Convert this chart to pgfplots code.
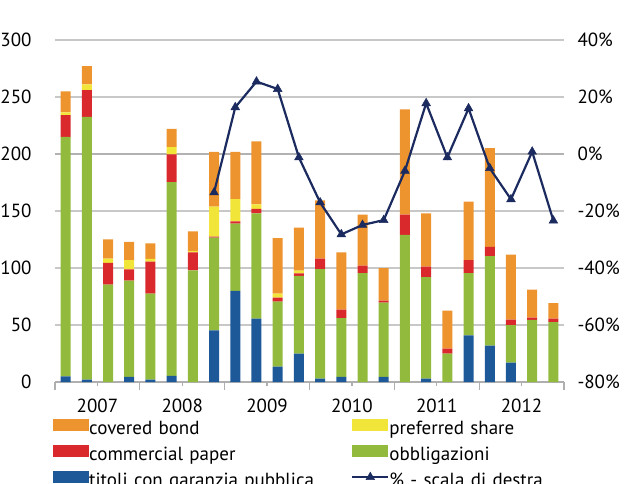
\documentclass[border=0pt]{standalone}
\usepackage{pgfplots}
\usepackage{pgfplotstable}
\pgfplotsset{compat=1.18}
\usepackage{fontspec}
\setmainfont{PT Sans}
\definecolor{cOrange}{RGB}{237,148,46}
\definecolor{cYellow}{RGB}{242,229,58}
\definecolor{cRed}{RGB}{218,41,44}
\definecolor{cGreen}{RGB}{146,187,62}
\definecolor{cBlue}{RGB}{29,89,153}
\definecolor{cNavy}{RGB}{28,43,95}
\definecolor{cGrid}{RGB}{200,200,200}
\definecolor{cAxis}{RGB}{175,175,175}
\pgfplotsset{
  swatch/.style={legend image code/.code={\fill[##1] (0pt,-1pt) rectangle (36pt,11pt);}},
  linesw/.style={legend image code/.code={%
    \draw[draw=cNavy, line width=2.2pt] (0pt,5pt) -- (36pt,5pt);
    \begin{scope}[shift={(18pt,5pt)}, fill=cNavy, draw=cNavy, line width=0.5pt]
      \pgfsetplotmarksize{5pt}\pgfuseplotmark{triangle*}
    \end{scope}}},
}
\pgfplotstableread{
x blue green red yellow orange
0 5 210 19 2.5 18.5
1 2 230.5 23.5 5 16
2 0 85.4 19 3.8 17
3 4.4 84.5 10 8 16
4 2 75.5 28 2.4 13.6
5 5.3 170 24.3 6.4 16
6 0 98 15.7 1.3 17.2
7 45.3 81.3 1 26.3 48
8 80 59 2 19.5 41.3
9 55.6 92.4 3.8 4 55.2
10 13.5 57 3.5 3.5 48.8
11 25 68 2.3 2.4 37.7
12 3 96 9.2 0 51.2
13 4.4 51.7 7.4 0 50.2
14 0 95.6 6.4 0 44.8
15 4.4 65.2 1.7 0 28.7
16 0 129 17.8 0 92.4
17 3 89 9.2 0 46.8
18 0 24.9 4.3 0 33.4
19 41 54.6 11.4 0 51.2
20 32 78.5 8 0 86.6
21 17 33 4.7 0 57
22 0 54.4 2 0 24.6
23 0 52.6 3 0 13.7
}\bars
\pgfplotstableread{
x pct
7 -13.5
8 16.4
9 25.4
10 22.8
11 -1.2
12 -17
13 -28.2
14 -24.9
15 -23.2
16 -5.9
17 17.8
18 -1.2
19 16
20 -5
21 -15.9
22 0.8
23 -23.4
}\pct
\newcommand{\fnt}{\fontsize{19}{22}\selectfont}
\begin{document}
\begin{tikzpicture}
\useasboundingbox (0pt,0pt) rectangle (634pt,483pt);
\clip (0pt,0pt) rectangle (634pt,483pt);
\begin{axis}[
  at={(55pt,101pt)}, anchor=south west,
  scale only axis, width=509pt, height=342pt,
  xmin=-0.5, xmax=23.5, ymin=0, ymax=300,
  ybar stacked, bar width=10pt,
  axis x line*=bottom, axis y line*=left,
  y axis line style={draw=none},
  x axis line style={draw=cAxis, line width=1.6pt},
  ytick={0,50,...,300},
  yticklabels={0,50,100,150,200,250,300},
  ytick style={draw=none},
  ymajorgrids, grid style={draw=cGrid, line width=1.2pt},
  extra y ticks={200}, extra y tick labels={},
  extra y tick style={grid=major, major grid style={draw=black!30, line width=1.6pt}, ytick style={draw=none}},
  yticklabel style={font=\fnt, xshift=-12pt},
  tick align=outside,
  xtick={-0.5,3.5,7.5,11.5,15.5,19.5,23.5}, xticklabels={},
  major tick length=8pt,
  xtick style={draw=cAxis, line width=1.3pt},
  extra x ticks={1.5,5.5,9.5,13.5,17.5,21.5},
  extra x tick labels={2007,2008,2009,2010,2011,2012},
  extra x tick style={major tick length=4pt, xtick style={draw=cAxis, line width=1.3pt}},
  xticklabel style={font=\fnt, yshift=-9pt},
  legend columns=2,
  legend cell align=left,
  legend style={draw=none, fill=none, inner sep=0pt, font=\fnt,
    at={(-2pt,-37pt)}, anchor=north west,
    row sep=6.5pt, column sep=0pt,
    nodes={inner sep=0pt, text width=262pt, text height=13pt, text depth=4pt, xshift=2pt}},
]
\addplot[fill=cBlue, draw=none, forget plot] table[x=x, y=blue] {\bars};
\addplot[fill=cGreen, draw=none, forget plot] table[x=x, y=green] {\bars};
\addplot[fill=cRed, draw=none, forget plot] table[x=x, y=red] {\bars};
\addplot[fill=cYellow, draw=none, forget plot] table[x=x, y=yellow] {\bars};
\addplot[fill=cOrange, draw=none, forget plot] table[x=x, y=orange] {\bars};
\addlegendimage{swatch, fill=cOrange, draw=none}
\addlegendentry{covered bond}
\addlegendimage{swatch, fill=cYellow, draw=none}
\addlegendentry{preferred share}
\addlegendimage{swatch, fill=cRed, draw=none}
\addlegendentry{commercial paper}
\addlegendimage{swatch, fill=cGreen, draw=none}
\addlegendentry{obbligazioni}
\addlegendimage{swatch, fill=cBlue, draw=none}
\addlegendentry{titoli con garanzia pubblica}
\addlegendimage{linesw}
\addlegendentry{\% - scala di destra}
\end{axis}
\begin{axis}[
  at={(55pt,101pt)}, anchor=south west,
  scale only axis, width=509pt, height=342pt,
  xmin=-0.5, xmax=23.5, ymin=-80, ymax=40,
  axis x line=none, axis y line*=right,
  y axis line style={draw=none},
  ytick={-80,-60,...,40},
  yticklabels={-80\%,-60\%,-40\%,-20\%,0\%,20\%,40\%},
  ytick style={draw=none},
  yticklabel style={font=\fnt, xshift=10pt},
]
\addplot[draw=cNavy, line width=2.2pt, mark=triangle*, mark size=5pt, mark options={fill=cNavy, draw=cNavy, line width=0.5pt}] table[x=x, y=pct] {\pct};
\end{axis}
\end{tikzpicture}
\end{document}
